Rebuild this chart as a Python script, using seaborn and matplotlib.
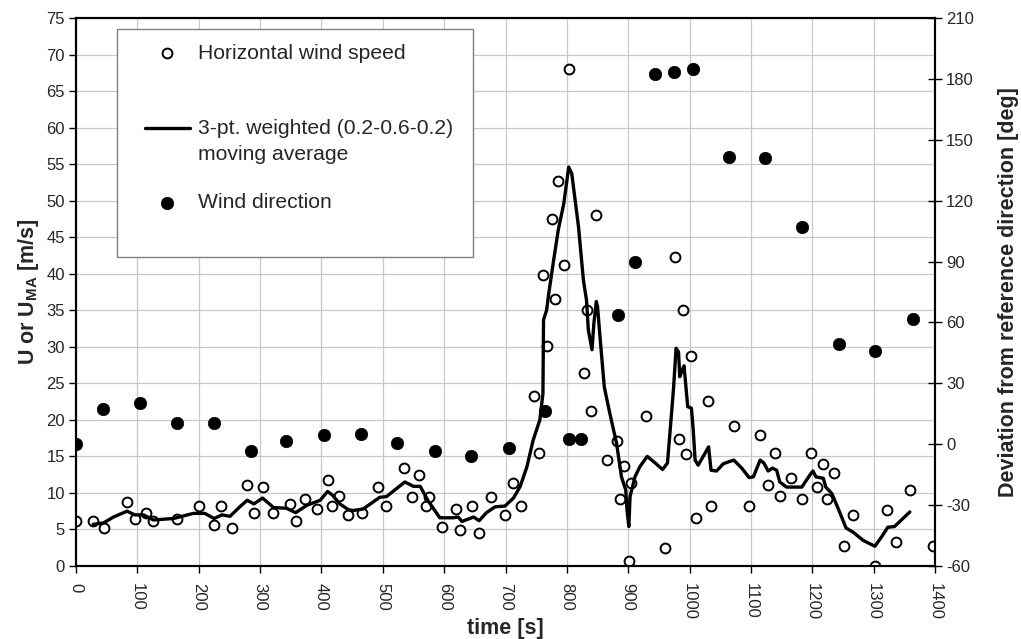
import matplotlib
matplotlib.use("Agg")
import matplotlib.pyplot as plt
import seaborn as sns
import pandas as pd
from matplotlib.patches import Rectangle

# ---- data ----
speed_t = [0, 28, 46, 83, 96, 114, 125, 164, 201, 225, 237, 254, 279, 290, 304, 321,
           349, 358, 374, 393, 410, 418, 428, 444, 466, 492, 506, 534, 548, 559, 570,
           576, 596, 620, 626, 646, 657, 677, 699, 713, 725, 746, 755, 761, 767, 775,
           781, 786, 795, 803, 828, 833, 840, 848, 865, 882, 887, 893, 901, 904, 929,
           960, 977, 983, 990, 994, 1002, 1010, 1030, 1035, 1072, 1097, 1114, 1128,
           1139, 1148, 1165, 1184, 1198, 1207, 1217, 1224, 1235, 1252, 1266, 1302,
           1322, 1336, 1359, 1397]
speed_u = [6.2, 6.2, 5.2, 8.7, 6.4, 7.3, 6.1, 6.4, 8.2, 5.6, 8.2, 5.2, 11.1, 7.3, 10.8, 7.3,
           8.5, 6.1, 9.2, 7.8, 11.8, 8.2, 9.6, 7.0, 7.3, 10.8, 8.2, 13.4, 9.4, 12.5, 8.2,
           9.4, 5.4, 7.8, 4.9, 8.2, 4.5, 9.4, 7.0, 11.3, 8.2, 23.3, 15.5, 39.8, 30.1, 47.5,
           36.5, 52.7, 41.2, 68.0, 26.4, 35.0, 21.2, 48.0, 14.5, 17.1, 9.2, 13.7, 0.7, 11.3, 20.5,
           2.4, 42.3, 17.4, 35.0, 15.3, 28.7, 6.6, 22.6, 8.2, 19.1, 8.2, 17.9, 11.1,
           15.5, 9.6, 12.0, 9.2, 15.5, 10.8, 13.9, 9.2, 12.7, 2.8, 7.0, 0.0,
           7.6, 3.3, 10.4, 2.8]

ma_t = [28, 45, 61, 83, 96, 110, 126, 159, 191, 210, 225, 238, 251, 267, 279, 290, 304,
        322, 343, 358, 376, 398, 410, 418, 430, 444, 452, 468, 495, 506, 536, 550, 561,
        574, 593, 615, 623, 629, 648, 657, 669, 683, 699, 713, 724, 735, 745, 756, 761,
        762, 767, 770, 778, 786, 795, 803, 808, 819, 827, 832, 835, 841, 844, 848, 850,
        854, 861, 870, 881, 889, 896, 898, 901, 903, 911, 919, 931, 944, 956, 964, 971,
        974, 978, 982, 984, 988, 991, 993, 997, 1003, 1006, 1009, 1014, 1025, 1031, 1035,
        1044, 1055, 1072, 1085, 1097, 1104, 1115, 1121, 1128, 1135, 1142, 1147, 1158,
        1183, 1194, 1201, 1206, 1218, 1222, 1232, 1243, 1255, 1267, 1283, 1302, 1313,
        1323, 1334, 1359]
ma_u = [5.7, 5.9, 6.7, 7.5, 7.0, 7.0, 6.3, 6.5, 7.2, 7.2, 6.5, 7.0, 6.8, 8.1, 9.0, 8.5, 9.3,
        8.0, 7.9, 7.3, 8.3, 9.0, 10.2, 9.7, 8.5, 7.7, 7.6, 7.8, 9.4, 9.5, 11.5, 10.9, 10.9,
        8.9, 6.6, 6.6, 6.7, 6.1, 6.7, 6.2, 7.3, 8.1, 8.2, 9.3, 10.9, 13.6, 17.2, 20.0, 23.6,
        33.7, 35.0, 37.0, 41.6, 46.0, 49.6, 54.6, 53.7, 46.4, 39.1, 36.4, 32.3, 29.6, 33.2, 36.2, 35.5,
        31.4, 24.5, 20.9, 16.8, 12.2, 10.4, 7.7, 5.4, 9.5, 12.2, 13.6, 15.0, 14.1, 13.2, 14.1, 21.3,
        24.5, 29.8, 29.3, 25.9, 26.8, 27.4, 25.5, 21.8, 21.6, 18.6, 14.5, 13.8, 15.4, 16.3, 13.1,
        13.0, 14.0, 14.5, 13.4, 12.1, 12.2, 14.5, 14.1, 13.0, 13.4, 13.1, 11.5, 10.8,
        10.8, 12.2, 13.0, 12.2, 12.0, 10.8, 9.9, 7.7, 5.2, 4.6, 3.5, 2.7, 4.0,
        5.3, 5.4, 7.4]

dir_t = [0, 44, 104, 164, 225, 285, 343, 405, 464, 523, 585, 643, 705, 764, 803, 823,
         884, 911, 943, 974, 1005, 1064, 1123, 1184, 1244, 1302, 1364]
dir_d = [0.1, 17.2, 20.5, 10.3, 10.3, -3.3, 1.7, 4.4, 5.0, 0.8, -3.5, -5.8, -1.7, 16.2, 2.6, 2.6,
         63.8, 89.9, 182.4, 183.2, 184.7, 141.7, 140.9, 106.9, 49.2, 45.9, 61.9]

x_ticks = list(range(0, 1401, 100))
left_ticks = list(range(0, 76, 5))
right_ticks = list(range(-60, 211, 30))

lbl_speed = "Horizontal wind speed"
lbl_ma = "\n3-pt. weighted (0.2-0.6-0.2)\nmoving average"
lbl_dir = "Wind direction"

# ---- style ----
sns.set_style("white")
plt.rcParams['font.family'] = ['Liberation Sans', 'DejaVu Sans']
plt.rcParams['mathtext.fontset'] = 'custom'
plt.rcParams['mathtext.rm'] = 'Liberation Sans'
plt.rcParams['mathtext.bf'] = 'Liberation Sans:bold'

df_s = pd.DataFrame({"t": speed_t, "u": speed_u})
df_m = pd.DataFrame({"t": ma_t, "u": ma_u})
df_d = pd.DataFrame({"t": dir_t, "d": dir_d})

fig = plt.figure(figsize=(10.21, 6.39), dpi=100)
ax = fig.add_axes([76/1021, 1-566/639, 859/1021, 548/639])

sns.scatterplot(data=df_s, x="t", y="u", ax=ax, marker="o", s=50,
                facecolor="white", edgecolor="black", linewidth=1.4,
                label=lbl_speed, zorder=3, legend=False)
sns.lineplot(data=df_m, x="t", y="u", ax=ax, sort=False, estimator=None,
             color="black", linewidth=2.4, label=lbl_ma, zorder=4, legend=False)

ax.set_xlim(0, 1400)
ax.set_ylim(0, 75)
ax.set_xticks(x_ticks)
ax.set_yticks(left_ticks)
ax.set_xticklabels([str(v) for v in x_ticks], rotation=270, fontsize=12)
ax.set_yticklabels([str(v) for v in left_ticks], fontsize=12)
ax.grid(True, color="#c8c8c8", linewidth=0.9)
ax.set_axisbelow(True)
ax.tick_params(axis='y', direction='out', length=5, width=1, color='black', left=True, pad=3)
ax.tick_params(axis='x', direction='out', length=5, width=1, color='black', bottom=True, pad=7)
ax.set_xlabel("time [s]", fontsize=15.5, fontweight='bold', labelpad=-1)
ax.set_ylabel(r"U or U$_{\mathbf{MA}}$ [m/s]", fontsize=15.5, fontweight='bold', labelpad=4)
for sp in ax.spines.values():
    sp.set_color("black")
    sp.set_linewidth(1.5)

ax2 = ax.twinx()
sns.scatterplot(data=df_d, x="t", y="d", ax=ax2, marker="o", s=80,
                color="black", edgecolor="black", linewidth=0.5,
                label=lbl_dir, zorder=5, legend=False)
ax2.set_ylim(-60, 210)
ax2.set_yticks(right_ticks)
ax2.set_yticklabels([str(v) for v in right_ticks], fontsize=12)
ax2.tick_params(axis='y', direction='inout', length=10, width=1, color='black', right=True, pad=3)
ax2.set_ylabel("Deviation from reference direction [deg]", fontsize=15.5,
               fontweight='bold', labelpad=17)
ax2.grid(False)
for sp in ax2.spines.values():
    sp.set_color("black")
    sp.set_linewidth(1.5)

# legend
fig.patches.append(Rectangle((117/1021, 1-257/639), 356/1021, 228/639,
                             transform=fig.transFigure, facecolor="white",
                             edgecolor="#808080", linewidth=1.0, zorder=10))
h1, l1 = ax.get_legend_handles_labels()
h2, l2 = ax2.get_legend_handles_labels()
leg = fig.legend(h1 + h2, l1 + l2, loc='upper left',
                 bbox_to_anchor=(145/1021, 1-44/639), frameon=False,
                 fontsize=15.2, handlelength=2.13, handletextpad=0.38,
                 borderpad=0, borderaxespad=0, labelspacing=1.4)
for t in leg.get_texts():
    t.set_linespacing(1.47)
leg.set_zorder(11)

fig.savefig("out.png", dpi=100)
